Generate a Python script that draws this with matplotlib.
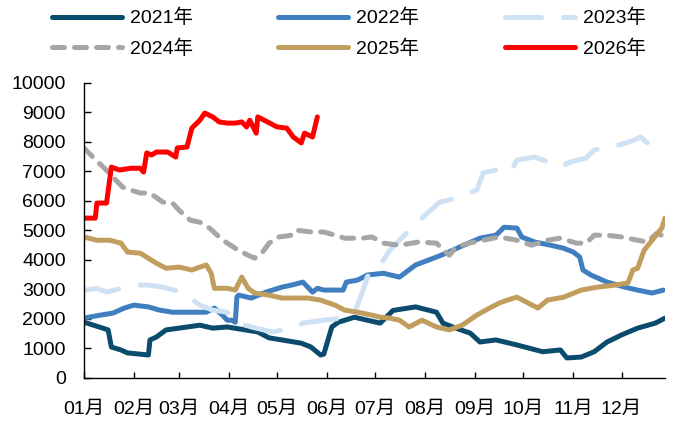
import matplotlib
matplotlib.use("Agg")
import matplotlib.pyplot as plt

# ---------------- data (day of year, value) ----------------
d2021 = [0,10,15,17,23,27,40,41,45,51,59,72,80,89,108,115,123,135,141,147,149,154,158,168,176,184,192,206,219,223,231,240,246,256,269,276,285,296,300,309,317,325,334,344,355,361]
v2021 = [1880,1710,1620,1040,940,840,770,1280,1380,1620,1680,1780,1680,1720,1550,1350,1280,1170,1040,770,800,1720,1880,2050,1950,1850,2280,2400,2220,1850,1680,1510,1210,1280,1110,1010,880,940,670,700,880,1210,1450,1680,1850,2020]

d2022 = [0,10,18,25,31,40,47,55,66,76,81,86,89,92,94,95,96,104,113,123,129,136,142,145,149,161,163,170,176,186,196,206,219,225,233,246,256,261,269,272,280,290,298,304,308,310,315,325,336,344,353,360]
v2022 = [2020,2120,2190,2360,2460,2400,2290,2220,2220,2220,2360,2120,1950,1950,1880,2730,2800,2700,2900,3070,3140,3240,2900,3030,2970,2970,3240,3310,3480,3540,3410,3820,4090,4220,4420,4730,4830,5100,5070,4770,4600,4490,4390,4260,4090,3650,3480,3240,3070,2970,2870,2970]

d2023 = [0,8,14,31,40,49,61,66,72,80,89,92,96,104,117,129,136,149,160,168,173,176,179,184,190,198,204,212,221,231,244,248,256,265,269,280,290,296,302,312,317,328,337,342,346,350]
v2023 = [2960,3030,2900,3140,3140,3070,2900,2700,2460,2290,2220,2050,1850,1720,1550,1680,1850,1950,2020,2190,2900,3410,3650,3820,4320,4770,5100,5510,5950,6090,6360,6940,7040,6970,7380,7480,7280,7140,7310,7450,7720,7820,7960,8060,8160,7960]

d2024 = [0,6,12,18,24,29,35,41,49,55,59,66,72,78,84,89,96,102,106,111,115,121,129,132,141,149,156,162,173,179,186,196,208,219,227,231,239,248,258,269,278,288,296,306,312,317,325,334,344,350,356,361]
v2024 = [7790,7450,7140,6800,6460,6360,6260,6260,5950,5920,5680,5340,5270,5070,4770,4560,4320,4150,4050,4260,4560,4770,4830,5000,4940,4940,4830,4730,4730,4770,4560,4490,4600,4560,4150,4420,4560,4660,4770,4660,4490,4660,4730,4560,4560,4830,4830,4770,4660,4600,4900,4770]

d2025 = [0,8,16,23,27,35,40,45,51,59,67,72,76,79,81,89,94,98,102,106,115,123,129,139,147,156,162,170,179,184,190,196,202,210,219,227,235,244,252,258,263,269,276,282,288,298,309,319,330,338,341,344,348,353,359,361]
v2025 = [4770,4660,4660,4560,4260,4220,4050,3880,3710,3750,3650,3750,3820,3540,3030,3030,2970,3410,3030,2870,2800,2700,2700,2700,2630,2460,2290,2220,2120,2050,2020,1950,1720,1950,1720,1620,1780,2120,2360,2530,2630,2730,2530,2360,2630,2730,2970,3070,3140,3210,3650,3710,4320,4660,5070,5410]

d2026 = [0,7,8,14,17,22,29,35,37,39,42,45,52,57,58,64,67,72,75,80,84,89,94,98,101,103,107,108,114,120,126,130,135,137,142,145]
v2026 = [5410,5410,5920,5920,7140,7040,7100,7100,6970,7620,7550,7650,7650,7480,7790,7820,8460,8730,8970,8840,8670,8630,8630,8670,8500,8730,8290,8840,8670,8500,8460,8160,7960,8290,8160,8840]

month_starts = [0,31,59,90,120,151,181,212,243,273,304,334]
month_labels = ["01月","02月","03月","04月","05月","06月","07月","08月","09月","10月","11月","12月"]
yticks = [0,1000,2000,3000,4000,5000,6000,7000,8000,9000,10000]

series = [
    ("2021年", d2021, v2021, "#0B4C6E", "-"),
    ("2022年", d2022, v2022, "#3F7FC0", "-"),
    ("2023年", d2023, v2023, "#CFE2F3", (0, (7.2, 4.4))),
    ("2024年", d2024, v2024, "#A6A6A6", (0, (2.4, 2.0))),
    ("2025年", d2025, v2025, "#C29E5E", "-"),
    ("2026年", d2026, v2026, "#FF0000", "-"),
]

tick_font = ["Liberation Sans", "Noto Sans CJK SC", "DejaVu Sans"]
plt.rcParams["font.family"] = tick_font

fig = plt.figure(figsize=(6.75, 4.23), dpi=100)
ax = fig.add_axes([84/675, 45.3/423, 581/675, 295/423])

handles = []
for name, d, v, c, ls in series:
    ln, = ax.plot(d, v, color=c, lw=3.6, ls=ls, solid_capstyle="round",
                  dash_capstyle="round", solid_joinstyle="round", label=name)
    handles.append(ln)

ax.set_xlim(0, 361)
ax.set_ylim(0, 10000)
ax.set_xticks(month_starts)
ax.set_xticklabels(month_labels)
ax.set_yticks(yticks)
for s in ["top", "right"]:
    ax.spines[s].set_visible(False)
for s in ["left", "bottom"]:
    ax.spines[s].set_linewidth(1.0)
    ax.spines[s].set_color("black")
ax.tick_params(axis="x", direction="in", length=4, width=1, pad=17, labelsize=14, colors="black")
ax.tick_params(axis="y", direction="in", length=5, width=1, pad=13, labelsize=14, colors="black")

order = [0, 3, 1, 4, 2, 5]
leg = fig.legend([handles[i] for i in order], [series[i][0] for i in order],
                 loc="upper left", bbox_to_anchor=(52/675, 1 - 9/423), ncol=3, frameon=False,
                 prop={"family": tick_font, "size": 14}, handlelength=3.6,
                 handletextpad=0.4, columnspacing=4.4, labelspacing=0.6,
                 borderpad=0.0, borderaxespad=0.0)

fig.savefig("out.png", dpi=100)
